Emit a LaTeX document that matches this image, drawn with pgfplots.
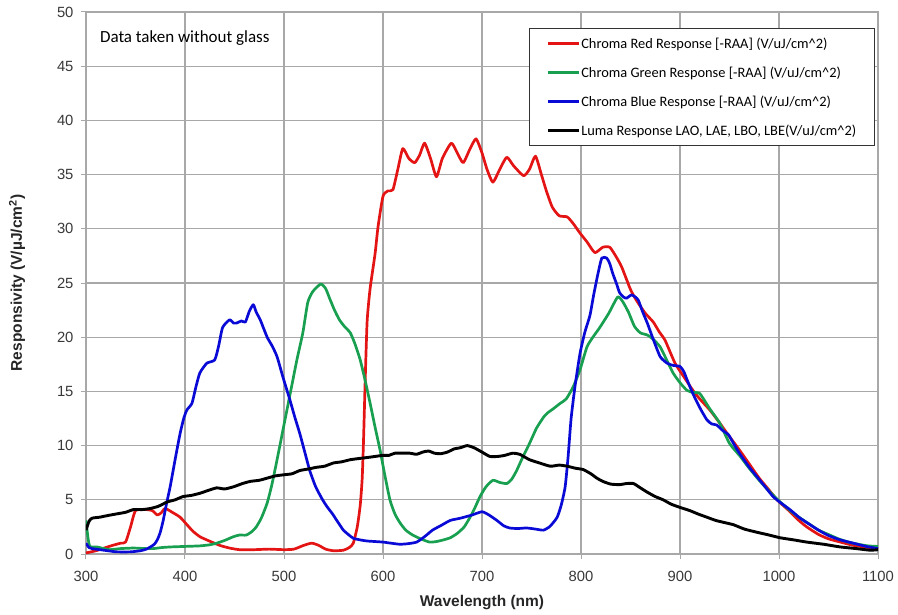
\documentclass[border=0pt]{standalone}
\usepackage{pgfplots}
\pgfplotsset{compat=1.18}
\usepackage{fontspec}
\setmainfont{Liberation Sans}
\newfontfamily\carlito{Carlito}
\definecolor{cred}{RGB}{228,20,20}
\definecolor{cgreen}{RGB}{24,160,80}
\definecolor{cblue}{RGB}{10,10,215}
\definecolor{gridgray}{RGB}{168,168,168}
\begin{document}
\begin{tikzpicture}
\begin{axis}[
  scale only axis, width=792pt, height=542pt,
  xmin=300, xmax=1100, ymin=0, ymax=50,
  xtick={300,400,...,1100}, ytick={0,5,...,50},
  grid=major, major grid style={gridgray, line width=1.1pt},
  axis line style={gridgray, line width=1.1pt},
  tick pos=left, tick align=outside, major tick length=5pt,
  tick style={gridgray, line width=1pt},
  /pgf/number format/assume math mode=true,
  /pgf/number format/1000 sep={},
  ticklabel style={font=\fontsize{14.8}{17}\selectfont, text=black!78},
  xticklabel style={yshift=-9pt},
  yticklabel style={xshift=-4pt},
  xlabel={Wavelength (nm)},
  ylabel={Responsivity (V/µJ/cm\textsuperscript{2})},
  xlabel style={font=\fontsize{15.5}{18}\selectfont\bfseries, text=black!85,
    at={(axis description cs:0.5,-0.089)}, anchor=center},
  ylabel style={font=\fontsize{15.5}{18}\selectfont\bfseries, text=black!85,
    at={(axis description cs:-0.087,0.5)}, anchor=center},
  legend cell align=left,
  legend style={at={(0.996,0.970)}, anchor=north east, draw=black!80, line width=1pt,
    fill=white, font=\carlito\fontsize{14.4}{16}\selectfont, row sep=13pt,
    inner xsep=17pt, inner ysep=7pt,
    nodes={inner xsep=1pt}},
  legend image code/.code={\draw[#1, line width=3pt] (0pt,0pt) -- (31pt,0pt);},
  every axis plot/.append style={line width=2.7pt, line join=round, smooth, tension=0.35},
]
\addplot[cred] coordinates {
(300,0.1)(310,0.3)(320,0.6)(327,0.8)(335,1.0)(340,1.1)(345,2.5)(350,4.0)(360,4.1)(367,4.0)
(372,3.6)(376,3.8)(380,4.2)(388,3.8)(395,3.4)(402,2.7)(408,2.1)(415,1.6)(422,1.3)(435,0.8)
(445,0.55)(455,0.4)(470,0.4)(485,0.45)(500,0.4)(510,0.45)(520,0.8)(528,1.0)(535,0.8)(542,0.45)
(550,0.3)(560,0.35)(566,0.6)(570,1.0)(574,2.5)(577,4.5)(579,7)(580.5,11)(582,16)(584,21.5)
(587,24.5)(592,27.7)(595,30.2)(600,33.0)(605,33.5)(610,33.6)(615,35.5)(620,37.4)(626,36.5)
(632,36.1)(637,36.8)(642,37.9)(648,36.5)(654,34.8)(660,36.5)(669,37.9)(675,37)(681,36.1)
(688,37.4)(694,38.3)(700,37)(705,35.5)(711,34.3)(718,35.5)(725,36.6)(732,35.8)(742,34.9)
(748,35.5)(754,36.7)(760,35)(765,33.5)(771,32.0)(778,31.2)(786,31.1)(792,30.5)(799,29.6)
(806,28.8)(814,27.8)(822,28.3)(829,28.3)(835,27.5)(841,26.5)(850,24.4)(856,23.4)(865,22.2)
(873,21.4)(879,20.5)(885,19.7)(895,17.6)(905,16.2)(913,15.1)(920,14.3)(930,13.3)(940,12.1)
(947,11.2)(960,9.6)(970,8.3)(980,7.0)(990,5.9)(998,5.0)(1010,4.0)(1020,3.1)(1028,2.5)
(1040,1.8)(1050,1.4)(1062,1.1)(1075,0.8)(1090,0.6)(1100,0.5)
};
\addlegendentry{Chroma Red Response [-RAA] (V/uJ/cm\^{}2)}
\addplot[cgreen] coordinates {
(300,3.1)(302,1.5)(304,0.7)(311,0.65)(318,0.5)(324,0.4)(335,0.5)(348,0.55)(360,0.5)(368,0.5)
(377,0.6)(385,0.65)(400,0.7)(415,0.75)(425,0.85)(432,1.0)(440,1.25)(449,1.6)(455,1.75)(462,1.75)
(468,2.1)(472,2.5)(477,3.3)(483,4.7)(488,6.5)(493,8.7)(498,11)(503,13.3)(508,15.6)(513,17.9)
(519,20.4)(524,23.2)(529,24.2)(537,24.9)(542,24.5)(546,23.6)(551,22.5)(556,21.6)(561,21)
(567,20.4)(572,19.3)(577,17.9)(582,16)(587,13.9)(592,11.7)(597,9.6)(602,7.2)(607,5.0)(612,3.7)
(617,2.9)(623,2.2)(630,1.75)(638,1.4)(647,1.1)(654,1.15)(661,1.3)(668,1.5)(675,1.9)(682,2.5)
(688,3.4)(693,4.3)(698,5.3)(704,6.2)(711,6.8)(718,6.6)(725,6.5)(730,6.9)(735,7.7)(741,8.9)
(748,10.2)(755,11.6)(762,12.6)(766,13.0)(772,13.4)(779,13.9)(785,14.3)(792,15.4)(799,17)
(806,19.1)(812,20.0)(819,20.9)(828,22.2)(837,23.7)(842,23.3)(848,22.3)(854,21)(860,20.4)
(867,20.2)(873,19.8)(880,19.1)(886,18)(893,16.7)(900,15.8)(907,15.1)(913,14.9)(920,14.8)
(930,13.4)(940,12.1)(950,10.2)(960,9.1)(970,7.9)(980,6.8)(990,5.8)(1000,4.9)(1010,4.1)
(1020,3.4)(1030,2.8)(1040,2.2)(1050,1.8)(1060,1.4)(1070,1.1)(1080,0.9)(1090,0.75)(1100,0.7)
};
\addlegendentry{Chroma Green Response [-RAA] (V/uJ/cm\^{}2)}
\addplot[cblue] coordinates {
(300,1.0)(303,0.6)(306,0.5)(314,0.4)(322,0.3)(331,0.2)(345,0.2)(355,0.3)(361,0.45)(365,0.65)
(369,0.9)(372,1.3)(375,2)(378,3.1)(381,4.5)(385,6.2)(390,8.7)(395,11.1)(399,12.6)(402,13.3)
(407,13.9)(411,15.4)(415,16.7)(422,17.6)(430,17.9)(434,19.2)(438,20.9)(445,21.6)(449,21.3)
(452,21.3)(457,21.5)(461,21.4)(465,22.4)(469,23.0)(472,22.3)(476,21.6)(483,20.0)(488,19.2)
(493,18.2)(499,16.3)(506,14.2)(511,12.6)(516,11.1)(521,9.4)(526,7.7)(532,6.2)(539,5.0)
(544,4.3)(549,3.7)(554,3.0)(560,2.2)(565,1.8)(570,1.45)(577,1.3)(584,1.2)(592,1.15)(600,1.1)
(608,1.0)(617,0.9)(625,0.95)(634,1.1)(642,1.6)(650,2.2)(658,2.6)(668,3.1)(678,3.3)(690,3.6)
(700,3.9)(707,3.6)(715,3.1)(722,2.6)(728,2.4)(736,2.35)(745,2.4)(754,2.3)(762,2.2)(768,2.5)
(772,2.9)(776,3.4)(780,4.5)(784,6.2)(787,9)(790,12.5)(794,15.5)(799,18.5)(804,20.5)
(809,22)(813,24)(817,25.8)(821,27.3)(826,27.3)(829,26.8)(832,25.9)(836,24.9)(839,24.1)
(843,23.7)(846,23.6)(851,23.9)(855,23.7)(858,23.4)(862,22.4)(867,21.3)(873,19.8)(880,18.2)
(887,17.6)(893,17.4)(900,17.3)(904,16.8)(907,16.1)(913,14.8)(920,13.5)(927,12.4)(932,12.0)
(937,11.9)(943,11.4)(949,11.0)(954,10.2)(960,9.3)(970,8.0)(978,7.1)(986,6.2)(994,5.3)
(1002,4.7)(1011,4.1)(1020,3.4)(1028,2.9)(1040,2.2)(1050,1.7)(1062,1.3)(1075,1.0)(1088,0.7)
(1100,0.5)
};
\addlegendentry{Chroma Blue Response [-RAA] (V/uJ/cm\^{}2)}
\addplot[black, line width=2.9pt] coordinates {
(300,2.2)(303,3.0)(306,3.3)(314,3.4)(322,3.55)(331,3.7)(340,3.85)(348,4.1)(357,4.1)(365,4.2)
(373,4.4)(382,4.8)(390,5.0)(398,5.3)(406,5.4)(415,5.6)(423,5.85)(432,6.1)(440,6.0)(449,6.2)
(458,6.5)(466,6.7)(475,6.8)(483,7.0)(491,7.2)(499,7.3)(508,7.4)(516,7.7)(525,7.85)(533,8.0)
(541,8.1)(550,8.4)(558,8.5)(567,8.7)(575,8.8)(584,8.9)(592,9.0)(600,9.1)(606,9.1)(612,9.3)
(620,9.3)(627,9.3)(634,9.2)(640,9.4)(646,9.5)(652,9.3)(658,9.25)(665,9.4)(672,9.7)(678,9.8)
(685,10.0)(692,9.8)(700,9.4)(708,9.0)(716,9.0)(723,9.1)(731,9.3)(738,9.2)(748,8.7)(758,8.4)
(769,8.1)(778,8.2)(786,8.1)(795,7.9)(802,7.8)(810,7.4)(816,7.0)(822,6.7)(830,6.45)(839,6.4)
(846,6.5)(853,6.5)(860,6.1)(867,5.7)(875,5.3)(883,5.0)(891,4.6)(900,4.3)(910,4.0)(918,3.7)
(927,3.4)(936,3.1)(945,2.9)(954,2.7)(965,2.3)(978,2.0)(990,1.75)(1001,1.5)(1015,1.3)
(1028,1.1)(1045,0.9)(1062,0.65)(1078,0.5)(1092,0.35)(1100,0.4)
};
\addlegendentry{Luma Response LAO, LAE, LBO, LBE(V/uJ/cm\^{}2)}
\node[anchor=west, font=\carlito\fontsize{17}{20}\selectfont, inner sep=0pt] at (axis cs:314,47.6) {Data taken without glass};
\end{axis}
\pgfresetboundingbox
\path[use as bounding box] ([shift={(-86pt,-60pt)}]current axis.south west) rectangle ([shift={(20pt,12pt)}]current axis.north east);
\end{tikzpicture}
\end{document}
